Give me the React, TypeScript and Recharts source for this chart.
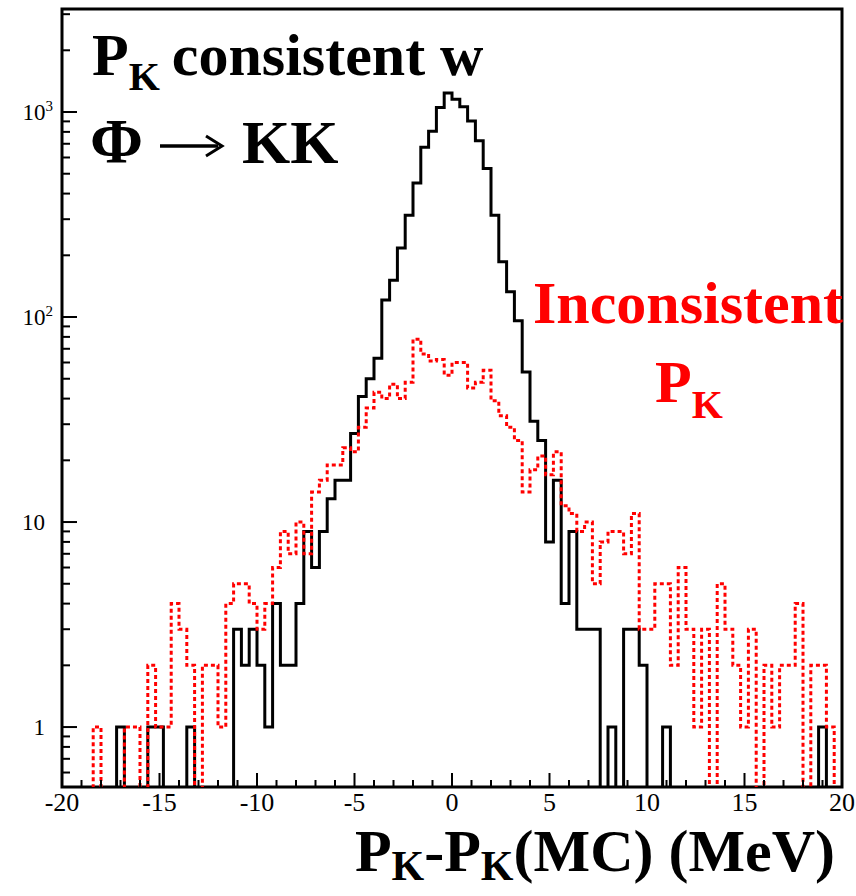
import React from "react";
import { LineChart, Line, XAxis, YAxis, ReferenceArea } from "recharts";

// histogram binning: 100 bins of 0.4 MeV from -20 to 20
const BIN_LOW = -20;
const BIN_HIGH = 20;
const BIN_WIDTH = 0.4;

// P_K consistent with phi -> KK (black, solid)
const CONSISTENT_COUNTS = [
  0, 0, 0, 0, 0, 0, 0, 1, 0, 0,
  0, 1, 1, 0, 0, 0, 1, 0, 0, 0,
  0, 0, 3, 2, 3, 2, 1, 4, 2, 2,
  4, 9, 6, 9, 13, 16, 16, 27, 41, 50,
  63, 121, 151, 217, 314, 450, 673, 805, 1052, 1237,
  1153, 1060, 905, 725, 530, 314, 186, 133, 96, 54,
  31, 25, 8, 16, 4, 9, 3, 3, 3, 0,
  1, 0, 3, 3, 2, 0, 0, 1, 0, 0,
  0, 0, 0, 0, 0, 0, 0, 0, 0, 0,
  0, 0, 0, 0, 0, 0, 0, 1, 0, 0,
];

// inconsistent P_K (red, dotted)
const INCONSISTENT_COUNTS = [
  0, 0, 0, 0, 1, 0, 0, 0, 1, 1,
  0, 2, 1, 1, 4, 3, 2, 0, 2, 2,
  1, 4, 5, 5, 4, 3, 4, 6, 9, 7,
  10, 7, 14, 16, 19, 19, 23, 22, 29, 36,
  43, 40, 47, 40, 48, 78, 66, 61, 62, 52,
  60, 60, 45, 48, 55, 39, 33, 29, 25, 14,
  18, 21, 17, 22, 12, 11, 9, 10, 5, 8,
  9, 9, 7, 11, 3, 3, 5, 5, 2, 6,
  3, 1, 3, 0, 5, 3, 2, 1, 3, 0,
  2, 1, 2, 2, 4, 0, 2, 2, 1, 0,
];

const X_LABELS = [-20, -15, -10, -5, 0, 5, 10, 15, 20];
const X_TICKS = Array.from({ length: 41 }, (_, i) => BIN_LOW + i);
const Y_LABELS = [1, 10, 100, 1000];
const Y_TICKS = [
  0.6, 0.7, 0.8, 0.9,
  1, 2, 3, 4, 5, 6, 7, 8, 9,
  10, 20, 30, 40, 50, 60, 70, 80, 90,
  100, 200, 300, 400, 500, 600, 700, 800, 900,
  1000, 2000, 3000,
];
const Y_DOMAIN = [0.51, 3180];

// empty bins are sent below the axis so the step drops to the frame
const EMPTY = 0.1;

const data = CONSISTENT_COUNTS.map((c, i) => ({
  x: BIN_LOW + i * BIN_WIDTH,
  consistent: c || EMPTY,
  inconsistent: INCONSISTENT_COUNTS[i] || EMPTY,
}));
data.push({
  x: BIN_HIGH,
  consistent: CONSISTENT_COUNTS[CONSISTENT_COUNTS.length - 1] || EMPTY,
  inconsistent: INCONSISTENT_COUNTS[INCONSISTENT_COUNTS.length - 1] || EMPTY,
});

const SERIF = "'Liberation Serif', 'Times New Roman', serif";

function XTick({ x, y, payload }: any) {
  const major = X_LABELS.includes(payload.value);
  return (
    <g>
      <line x1={x} x2={x} y1={y} y2={y - (major ? 14 : 7)} stroke="#000" strokeWidth={2} />
      {major && (
        <text x={x} y={y + 24} textAnchor="middle" fontSize={26} fontFamily={SERIF} fill="#000">
          {payload.value}
        </text>
      )}
    </g>
  );
}

function YTick({ x, y, payload }: any) {
  const v = payload.value;
  const major = Y_LABELS.includes(v);
  let label = null;
  if (v === 1 || v === 10) {
    label = (
      <text x={x - 17} y={y + 8} textAnchor="end" fontSize={23} fontFamily={SERIF} fill="#000">
        {v}
      </text>
    );
  } else if (major) {
    label = (
      <text x={x - 9} y={y + 8} textAnchor="end" fontSize={23} fontFamily={SERIF} fill="#000">
        10
        <tspan dy={-9} fontSize={15}>
          {Math.round(Math.log10(v))}
        </tspan>
      </text>
    );
  }
  return (
    <g>
      <line x1={x} x2={x + (major ? 15 : 8)} y1={y} y2={y} stroke="#000" strokeWidth={2} />
      {label}
    </g>
  );
}

export default function App() {
  return (
    <div style={{ position: "absolute", left: 0, top: 0, width: 856, height: 896, background: "#fff" }}>
      <LineChart
        width={856}
        height={896}
        data={data}
        margin={{ top: 9, right: 14, left: 0, bottom: 0 }}
      >
        <XAxis
          dataKey="x"
          type="number"
          domain={[BIN_LOW, BIN_HIGH]}
          ticks={X_TICKS}
          interval={0}
          height={109}
          axisLine={false}
          tickLine={false}
          tickSize={0}
          tickMargin={0}
          tick={<XTick />}
        />
        <YAxis
          type="number"
          scale="log"
          domain={Y_DOMAIN}
          allowDataOverflow
          ticks={Y_TICKS}
          interval={0}
          width={62}
          axisLine={false}
          tickLine={false}
          tickSize={0}
          tickMargin={0}
          tick={<YTick />}
        />
        <Line
          type="stepAfter"
          dataKey="consistent"
          stroke="#000"
          strokeWidth={3}
          dot={false}
          activeDot={false}
          isAnimationActive={false}
        />
        <Line
          type="stepAfter"
          dataKey="inconsistent"
          stroke="#ff0000"
          strokeWidth={3}
          strokeDasharray="4 3"
          dot={false}
          activeDot={false}
          isAnimationActive={false}
        />
        <ReferenceArea
          x1={BIN_LOW}
          x2={BIN_HIGH}
          y1={Y_DOMAIN[0]}
          y2={Y_DOMAIN[1]}
          fill="none"
          stroke="#000"
          strokeWidth={3}
          ifOverflow="visible"
        />
      </LineChart>

      <svg
        width={856}
        height={896}
        style={{ position: "absolute", left: 0, top: 0, pointerEvents: "none" }}
        fontFamily={SERIF}
      >
        <text x={92} y={75} fontSize={60} fontWeight="bold" fill="#000">
          P
          <tspan dy={15} fontSize={40}>K</tspan>
          <tspan dy={-15} dx={12}>consistent w</tspan>
        </text>
        <text x={90} y={163} fontSize={64} fontWeight="bold" fill="#000">Φ</text>
        <path d="M160 146 L218 146" stroke="#000" strokeWidth={3.5} fill="none" />
        <path d="M206 136 L222 146 L206 156" stroke="#000" strokeWidth={3} fill="none" />
        <text x={242} y={163} fontSize={62} fontWeight="bold" fill="#000">KK</text>

        <text x={533} y={323} fontSize={60} fontWeight="bold" fill="#ff0000">Inconsistent</text>
        <text x={655} y={402} fontSize={60} fontWeight="bold" fill="#ff0000">
          P
          <tspan dy={16} fontSize={40}>K</tspan>
        </text>

        <text x={835} y={871} textAnchor="end" fontSize={60} fontWeight="bold" fill="#000">
          P<tspan dy={9} fontSize={42}>K</tspan>
          <tspan dy={-9}>-P</tspan>
          <tspan dy={9} fontSize={42}>K</tspan>
          <tspan dy={-9}>(MC) (MeV)</tspan>
        </text>
      </svg>
    </div>
  );
}
